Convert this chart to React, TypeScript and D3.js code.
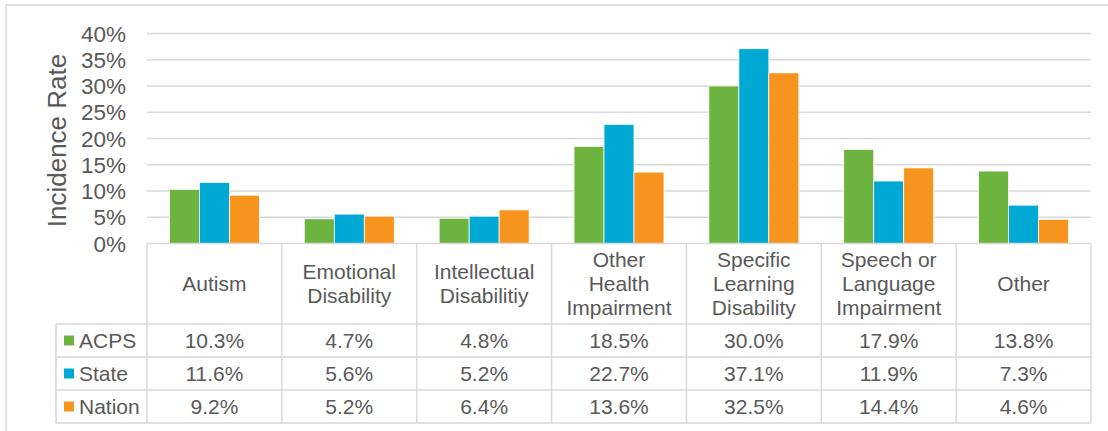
import React from 'react';
import * as d3 from 'd3';

// categories, each split in the lines shown in the table header
const categories: string[][] = [
  ['Autism'],
  ['Emotional', 'Disability'],
  ['Intellectual', 'Disabilitiy'],
  ['Other', 'Health', 'Impairment'],
  ['Specific', 'Learning', 'Disability'],
  ['Speech or', 'Language', 'Impairment'],
  ['Other'],
];

const seriesNames = ['ACPS', 'State', 'Nation'];
const seriesColors = ['#6db33f', '#00a9d3', '#f7941d'];

const acpsValues = [10.3, 4.7, 4.8, 18.5, 30.0, 17.9, 13.8];
const stateValues = [11.6, 5.6, 5.2, 22.7, 37.1, 11.9, 7.3];
const nationValues = [9.2, 5.2, 6.4, 13.6, 32.5, 14.4, 4.6];

const yTicks = [0, 5, 10, 15, 20, 25, 30, 35, 40];

const W = 1108;
const H = 431;
const plot = { left: 147, right: 1091, top: 33.5, bottom: 243.5 };
const headerBottom = 324;
const rowH = 33;
const legendLeft = 56;

const textColor = '#595959';
const gridColor = '#d9d9d9';
const font = '"Liberation Sans", Arial, sans-serif';

const App: React.FC = () => {
  const series = [acpsValues, stateValues, nationValues];
  const ids = categories.map((_, i) => String(i));

  const x = d3.scaleBand<string>().domain(ids).range([plot.left, plot.right]).padding(0);
  const xInner = d3
    .scaleBand<string>()
    .domain(seriesNames)
    .range([0, x.bandwidth()])
    .paddingInner(0)
    .paddingOuter(0.748);
  const y = d3.scaleLinear().domain([0, 40]).range([plot.bottom, plot.top]);

  const rowTop = (r: number) => headerBottom + r * rowH;
  const tableBottom = rowTop(seriesNames.length);

  return (
    <svg
      width={W}
      height={H}
      style={{ position: 'absolute', left: 0, top: 0, background: '#fff' }}
      fontFamily={font}
    >
      {/* chart frame */}
      <rect x={6} y={5} width={W + 10} height={H + 10} fill="none" stroke={gridColor} strokeWidth={1.5} />

      {/* gridlines */}
      {yTicks.slice(1).map((t) => (
        <line key={t} x1={plot.left} x2={plot.right} y1={y(t)} y2={y(t)} stroke={gridColor} strokeWidth={1.5} />
      ))}

      {/* tick labels */}
      {yTicks.map((t) => (
        <text
          key={t}
          x={126}
          y={y(t)}
          dy="0.36em"
          textAnchor="end"
          fontSize={22.5}
          fill={textColor}
        >
          {t}%
        </text>
      ))}

      {/* axis title */}
      <text
        transform={`translate(66, ${(plot.top + plot.bottom) / 2 + 2}) rotate(-90)`}
        textAnchor="middle"
        fontSize={26}
        fill={textColor}
      >
        Incidence Rate
      </text>

      {/* bars */}
      {ids.map((id, i) => (
        <g key={id} transform={`translate(${x(id)},0)`}>
          {seriesNames.map((s, k) => (
            <rect
              key={s}
              x={xInner(s)}
              y={y(series[k][i])}
              width={xInner.bandwidth()}
              height={y(0) - y(series[k][i])}
              fill={seriesColors[k]}
              stroke="#fff"
              strokeWidth={0.75}
            />
          ))}
        </g>
      ))}

      {/* data table lines */}
      <g stroke={gridColor} strokeWidth={1.5}>
        <line x1={plot.left} x2={plot.right} y1={plot.bottom} y2={plot.bottom} />
        {seriesNames.map((_, r) => (
          <line key={r} x1={legendLeft} x2={plot.right} y1={rowTop(r)} y2={rowTop(r)} />
        ))}
        <line x1={legendLeft} x2={plot.right} y1={tableBottom} y2={tableBottom} />
        <line x1={legendLeft} x2={legendLeft} y1={headerBottom} y2={tableBottom} />
        {ids.map((id) => (
          <line key={id} x1={x(id)} x2={x(id)} y1={plot.bottom} y2={tableBottom} />
        ))}
        <line x1={plot.right} x2={plot.right} y1={plot.bottom} y2={tableBottom} />
      </g>

      {/* category header */}
      {categories.map((lines, i) => {
        const cx = (x(String(i)) as number) + x.bandwidth() / 2;
        const cy = (plot.bottom + headerBottom) / 2;
        const lh = 24;
        return (
          <text key={i} textAnchor="middle" fontSize={21} fill={textColor}>
            {lines.map((l, j) => (
              <tspan key={j} x={cx} y={cy + (j - (lines.length - 1) / 2) * lh} dy="0.36em">
                {l}
              </tspan>
            ))}
          </text>
        );
      })}

      {/* legend rows + values */}
      {seriesNames.map((s, r) => {
        const cy = rowTop(r) + rowH / 2;
        return (
          <g key={s}>
            <rect x={64} y={cy - 5} width={10} height={10} fill={seriesColors[r]} />
            <text x={79} y={cy} dy="0.36em" fontSize={21} fill={textColor}>
              {s}
            </text>
            {series[r].map((v, i) => (
              <text
                key={i}
                x={(x(String(i)) as number) + x.bandwidth() / 2}
                y={cy}
                dy="0.36em"
                textAnchor="middle"
                fontSize={21}
                fill={textColor}
              >
                {v.toFixed(1)}%
              </text>
            ))}
          </g>
        );
      })}
    </svg>
  );
};

export default App;
